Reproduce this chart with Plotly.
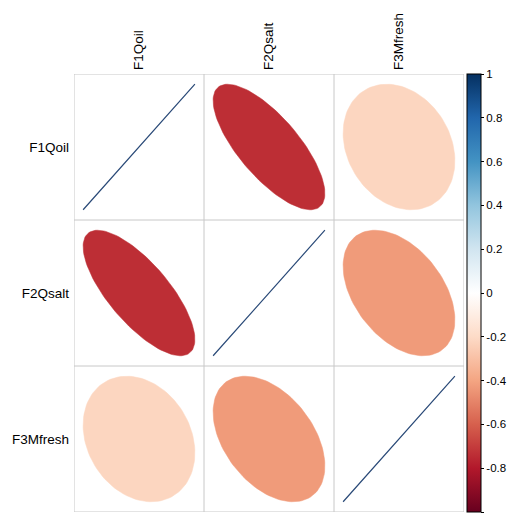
import numpy as np
import plotly.graph_objects as go

labels = ["F1Qoil", "F2Qsalt", "F3Mfresh"]
corr = [
    [1.00, -0.74, -0.22],
    [-0.74, 1.00, -0.43],
    [-0.22, -0.43, 1.00],
]
cbar_ticks = [-1, -0.8, -0.6, -0.4, -0.2, 0, 0.2, 0.4, 0.6, 0.8, 1]
cbar_text = ["-1", "-0.8", "-0.6", "-0.4", "-0.2", "0", "0.2", "0.4", "0.6", "0.8", "1"]

rdbu = ["#67001F", "#B2182B", "#D6604D", "#F4A582", "#FDDBC7", "#FFFFFF",
        "#D1E5F0", "#92C5DE", "#4393C3", "#2166AC", "#053061"]
colorscale = [[i / 10, c] for i, c in enumerate(rdbu)]


def hex2rgb(h):
    h = h.lstrip("#")
    return np.array([int(h[i:i + 2], 16) for i in (0, 2, 4)], dtype=float)


def val2color(v):
    t = (v + 1) / 2 * 10
    i = int(min(np.floor(t), 9))
    f = t - i
    c = hex2rgb(rdbu[i]) * (1 - f) + hex2rgb(rdbu[i + 1]) * f
    return "rgb(%d,%d,%d)" % tuple(np.round(c))


fig = go.Figure()
s = 0.86
k = np.linspace(0, 2 * np.pi, 120)
n = len(labels)
for i in range(n):
    for j in range(n):
        r = corr[i][j]
        a = np.arccos(np.clip(r, -1, 1)) / 2
        cx, cy = j + 1, i + 1
        xs = cx + s * np.cos(k + a) / 2
        ys = cy - s * np.cos(k - a) / 2
        col = val2color(r)
        if abs(r) >= 0.999:
            fig.add_trace(go.Scatter(x=xs, y=ys, mode="lines",
                                     line=dict(color="#2A4A78", width=1.2),
                                     hoverinfo="skip", showlegend=False))
        else:
            fig.add_trace(go.Scatter(x=xs, y=ys, mode="lines", fill="toself",
                                     fillcolor=col, line=dict(color=col, width=0.5),
                                     hoverinfo="skip", showlegend=False))

# colorbar holder
fig.add_trace(go.Scatter(
    x=[1, 1], y=[1, 1], mode="markers",
    marker=dict(size=0.1, opacity=0, color=[-1, 1], cmin=-1, cmax=1,
                colorscale=colorscale, showscale=True,
                colorbar=dict(x=1.0077, xanchor="left", y=0.5, yanchor="middle",
                              len=1.0, lenmode="fraction", thickness=14,
                              outlinewidth=1, outlinecolor="black",
                              tickmode="array", tickvals=cbar_ticks, ticktext=cbar_text,
                              ticks="outside", ticklen=3, tickcolor="black",
                              tickfont=dict(family="Liberation Sans, Arial", size=11.5, color="black"),
                              xpad=0, ypad=0)),
    hoverinfo="skip", showlegend=False))

shapes = []
for g in np.arange(0.5, n + 1, 1.0):
    shapes.append(dict(type="line", xref="x", yref="y", x0=g, x1=g, y0=0.5, y1=n + 0.5,
                       line=dict(color="#C8C8C8", width=1)))
    shapes.append(dict(type="line", xref="x", yref="y", x0=0.5, x1=n + 0.5, y0=g, y1=g,
                       line=dict(color="#C8C8C8", width=1)))

fig.update_layout(
    width=507, height=518,
    margin=dict(l=74, r=43, t=74, b=6, autoexpand=False),
    paper_bgcolor="white", plot_bgcolor="white",
    shapes=shapes,
    font=dict(family="Liberation Sans, Arial", size=13.5, color="black"),
    xaxis=dict(range=[0.5, n + 0.5], side="top", tickmode="array",
               tickvals=list(range(1, n + 1)), ticktext=labels, tickangle=-90,
               showgrid=False, zeroline=False, showline=False, ticks="",
               ticklabelstandoff=3,
               tickfont=dict(size=13.5), fixedrange=True, automargin=False),
    yaxis=dict(range=[n + 0.5, 0.5], tickmode="array",
               tickvals=list(range(1, n + 1)), ticktext=labels,
               showgrid=False, zeroline=False, showline=False, ticks="",
               ticklabelstandoff=4,
               tickfont=dict(size=13.5), fixedrange=True, automargin=False),
)
fig.write_html("out.html", config={"displayModeBar": False},
               post_script="document.body.style.margin='0';document.body.style.overflow='hidden';")
